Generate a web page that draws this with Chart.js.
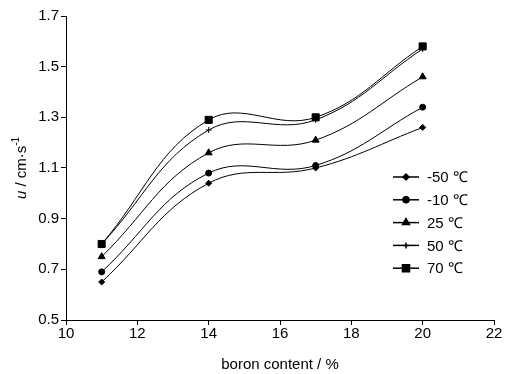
<!DOCTYPE html>
<html>
<head>
<meta charset="utf-8">
<script src="https://cdn.jsdelivr.net/npm/chart.js@4/dist/chart.umd.min.js"></script>
<style>
  html, body { margin: 0; padding: 0; background: #fff; }
  #wrap { width: 506px; height: 374px; }
</style>
</head>
<body>
<div id="wrap"><canvas id="chart" width="506" height="374"></canvas></div>
<script>
// boron content (%)
const boron = [11, 14, 17, 20];
// u (cm/s) per temperature
const uMinus50 = [0.65, 1.04, 1.10, 1.26];
const uMinus10 = [0.69, 1.08, 1.11, 1.34];
const u25 = [0.75, 1.16, 1.21, 1.46];
const u50 = [0.80, 1.25, 1.29, 1.57];
const u70 = [0.80, 1.29, 1.30, 1.58];
const seriesLabels = ["-50 \u2103", "-10 \u2103", "25 \u2103", "50 \u2103", "70 \u2103"];
const xTicks = [10, 12, 14, 16, 18, 20, 22];
const yTicks = [0.5, 0.7, 0.9, 1.1, 1.3, 1.5, 1.7];

const FONT = "'Liberation Sans', Arial, sans-serif";

function pts(ys) {
  return boron.map((x, i) => ({ x: x, y: ys[i] }));
}

const styles = [
  { pointStyle: "rectRot", radius: 3 },
  { pointStyle: "circle", radius: 3 },
  { pointStyle: "triangle", radius: 4 },
  { pointStyle: "cross", radius: 3 },
  { pointStyle: "rect", radius: 5 },
];

const allSeries = [uMinus50, uMinus10, u25, u50, u70];

const datasets = allSeries.map((ys, i) => ({
  label: seriesLabels[i],
  data: pts(ys),
  borderColor: "#000",
  backgroundColor: "#000",
  borderWidth: 1,
  tension: 0.4,
  pointStyle: styles[i].pointStyle,
  pointRadius: styles[i].radius,
  pointBorderWidth: 1,
  fill: false,
}));

// y axis title with italic u and superscript
const yTitle = {
  id: "yTitle",
  afterDraw(chart) {
    const ctx = chart.ctx;
    const area = chart.chartArea;
    ctx.save();
    ctx.translate(20, (area.top + area.bottom) / 2);
    ctx.rotate(-Math.PI / 2);
    ctx.fillStyle = "#000";
    ctx.textBaseline = "alphabetic";
    const parts = [
      { t: "u", f: "italic 15px " + FONT, dy: 0 },
      { t: " / cm\u00b7s", f: "15px " + FONT, dy: 0 },
      { t: "-1", f: "10px " + FONT, dy: -7 },
    ];
    let w = 0;
    parts.forEach(p => { ctx.font = p.f; w += ctx.measureText(p.t).width; });
    let x = -w / 2;
    parts.forEach(p => {
      ctx.font = p.f;
      ctx.fillText(p.t, x, 6 + p.dy);
      x += ctx.measureText(p.t).width;
    });
    ctx.restore();
  }
};

// legend: short line with marker, then label
const lineLegend = {
  id: "lineLegend",
  afterDraw(chart) {
    const ctx = chart.ctx;
    const x0 = 393, x1 = 419, tx = 427;
    const y0 = 177, step = 22.8;
    chart.data.datasets.forEach((ds, i) => {
      const y = y0 + i * step;
      ctx.save();
      ctx.strokeStyle = "#000";
      ctx.lineWidth = 1.5;
      ctx.beginPath();
      ctx.moveTo(x0, y);
      ctx.lineTo(x1, y);
      ctx.stroke();
      ctx.fillStyle = "#000";
      Chart.helpers.drawPoint(ctx, {
        pointStyle: ds.pointStyle,
        radius: ds.pointRadius,
        borderWidth: 1,
        rotation: 0,
      }, (x0 + x1) / 2, y);
      ctx.font = "15px " + FONT;
      ctx.textBaseline = "middle";
      ctx.fillText(ds.label, tx, y + 1);
      ctx.restore();
    });
  }
};

new Chart(document.getElementById("chart"), {
  type: "line",
  data: { datasets: datasets },
  options: {
    responsive: false,
    animation: false,
    layout: { padding: { top: 16, right: 12, left: 0, bottom: 0 } },
    plugins: {
      legend: { display: false },
      tooltip: { enabled: false },
    },
    scales: {
      x: {
        type: "linear",
        min: 10,
        max: 22,
        afterBuildTicks: (s) => { s.ticks = xTicks.map(v => ({ value: v })); },
        afterFit: (s) => { s.height = 54; },
        grid: { drawOnChartArea: false, drawTicks: true, tickLength: 5, color: "#000" },
        border: { display: true, color: "#000", width: 1 },
        ticks: { color: "#000", font: { family: FONT, size: 15 }, padding: 0 },
        title: {
          display: true,
          text: "boron content / %",
          color: "#000",
          font: { family: FONT, size: 15 },
          padding: { top: 2, bottom: 0 },
        },
      },
      y: {
        min: 0.5,
        max: 1.7,
        afterBuildTicks: (s) => { s.ticks = yTicks.map(v => ({ value: v })); },
        afterFit: (s) => { s.width = 66; },
        grid: { drawOnChartArea: false, drawTicks: true, tickLength: 5, color: "#000" },
        border: { display: true, color: "#000", width: 1 },
        ticks: {
          color: "#000",
          font: { family: FONT, size: 15 },
          padding: 2,
          callback: (v) => v.toFixed(1),
        },
      },
    },
  },
  plugins: [yTitle, lineLegend],
});
</script>
</body>
</html>
